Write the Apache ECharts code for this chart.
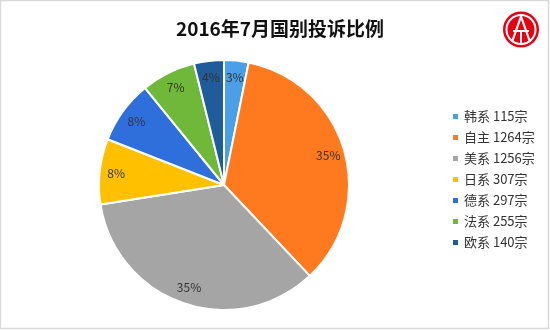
<!DOCTYPE html>
<html>
<head>
<meta charset="utf-8">
<script src="https://cdn.jsdelivr.net/npm/echarts@6/dist/echarts.min.js"></script>
<style>html,body{margin:0;padding:0;background:#fff;}#c{width:550px;height:330px;}</style>
</head>
<body>
<div id="c"></div>
<script>
const titleText = '2016年7月国别投诉比例';
const categories = ['韩系', '自主', '美系', '日系', '德系', '法系', '欧系'];
const counts = [115, 1264, 1256, 307, 297, 255, 140];
const colors = ['#4a9fe6', '#ff7a1f', '#a5a5a5', '#ffc000', '#2f6fdb', '#6fb83a', '#1f5c99'];
const unit = '宗';

const data = categories.map((n, i) => ({ name: n, value: counts[i], itemStyle: { color: colors[i] } }));
const countMap = {};
categories.forEach((n, i) => countMap[n] = counts[i]);
const font = '"Noto Sans CJK SC", "Noto Sans", sans-serif';

const chart = echarts.init(document.getElementById('c'), null, { renderer: 'canvas' });
chart.setOption({
  animation: false,
  backgroundColor: '#fff',
  title: {
    text: titleText,
    left: 275, top: 14, textAlign: 'center',
    textStyle: { fontSize: 19, fontWeight: 'bold', color: '#111', fontFamily: font }
  },
  legend: {
    orient: 'vertical',
    left: 446, top: 105,
    itemWidth: 7, itemHeight: 7, itemGap: 8,
    icon: 'rect',
    data: categories,
    formatter: n => n + ' ' + countMap[n] + unit,
    textStyle: { fontSize: 13, color: '#333', fontFamily: font, lineHeight: 13 }
  },
  graphic: [
    { type: 'rect', shape: { x: 0.5, y: 0.5, width: 548, height: 328 }, style: { fill: 'none', stroke: '#d9d9d9', lineWidth: 1.5 }, silent: true },
    { type: 'circle', shape: { cx: 521, cy: 29.5, r: 18 }, style: { fill: '#e60012' }, silent: true },
    { type: 'circle', shape: { cx: 521, cy: 29.5, r: 14.5 }, style: { fill: 'none', stroke: '#fff', lineWidth: 2 }, silent: true },
    { type: 'polyline', shape: { points: [[512, 42], [521, 16.5], [530, 42]] }, style: { fill: 'none', stroke: '#fff', lineWidth: 2.2 }, silent: true },
    { type: 'line', shape: { x1: 513, y1: 31, x2: 529, y2: 31 }, style: { stroke: '#fff', lineWidth: 2 }, silent: true },
    { type: 'line', shape: { x1: 521, y1: 31, x2: 521, y2: 43 }, style: { stroke: '#fff', lineWidth: 2 }, silent: true }
  ],
  series: [
    {
      type: 'pie',
      center: [224, 185],
      radius: [0, 125],
      startAngle: 90,
      clockwise: true,
      data: data,
      label: { show: false },
      labelLine: { show: false },
      itemStyle: { borderColor: '#fff', borderWidth: 2 },
      emphasis: { disabled: true }
    },
    {
      type: 'pie',
      center: [224, 185],
      radius: [86, 125],
      startAngle: 90,
      clockwise: true,
      silent: true,
      data: data.map(d => ({ name: d.name, value: d.value, itemStyle: { color: 'rgba(0,0,0,0)' } })),
      itemStyle: { borderWidth: 0 },
      label: {
        show: true, position: 'inside',
        formatter: p => Math.round(p.percent) + '%',
        fontSize: 12, color: '#333', fontFamily: font
      },
      labelLine: { show: false },
      emphasis: { disabled: true }
    }
  ]
});
</script>
</body>
</html>
